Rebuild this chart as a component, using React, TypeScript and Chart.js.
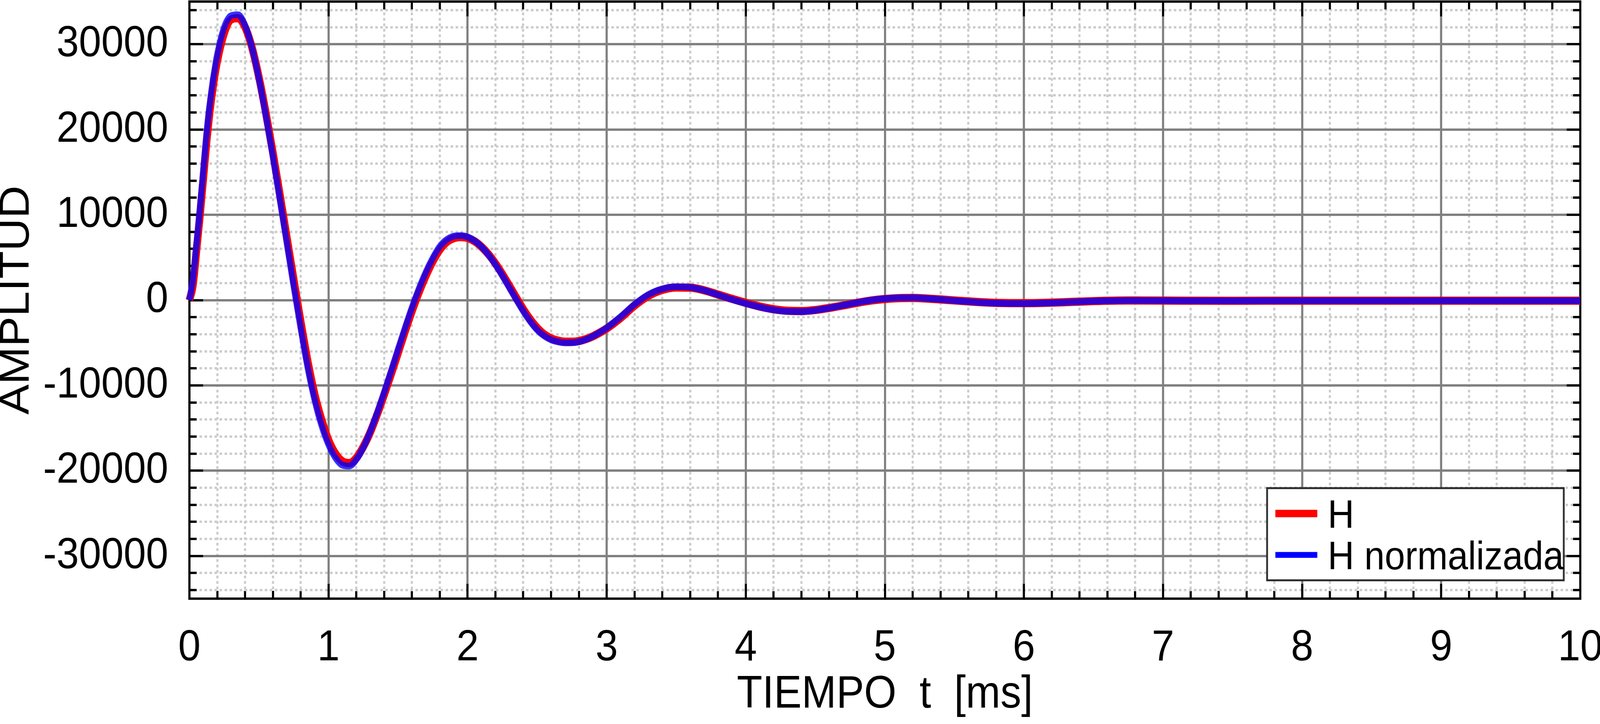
import { useEffect, useRef } from 'react';
import { Chart, registerables } from 'chart.js';

Chart.register(...registerables);

const FONT = "'Liberation Sans', Arial, Helvetica, sans-serif";

// time samples [ms]
const timeMs = [
  0, 0.025, 0.05, 0.075, 0.1, 0.125, 0.15, 0.175, 0.2, 0.25,
  0.3, 0.35, 0.4, 0.45, 0.5, 0.55, 0.6, 0.65, 0.7, 0.75,
  0.8, 0.85, 0.9, 0.95, 1.0, 1.05, 1.1, 1.15, 1.2, 1.25,
  1.3, 1.35, 1.4, 1.45, 1.5, 1.55, 1.6, 1.65, 1.7, 1.75,
  1.8, 1.85, 1.9, 1.95, 2.0, 2.05, 2.1, 2.15, 2.2, 2.25,
  2.3, 2.35, 2.4, 2.45, 2.5, 2.55, 2.6, 2.65, 2.7, 2.75,
  2.8, 2.85, 2.9, 2.95, 3.0, 3.1, 3.2, 3.3, 3.4, 3.5,
  3.6, 3.7, 3.8, 3.9, 4.0, 4.1, 4.2, 4.3, 4.4, 4.5,
  4.6, 4.7, 4.8, 4.9, 5.0, 5.1, 5.2, 5.3, 5.4, 5.5,
  5.6, 5.7, 5.8, 5.9, 6.0, 6.1, 6.2, 6.3, 6.4, 6.5,
  6.75, 7.0, 7.5, 8.0, 8.5, 9.0, 9.5, 10.0,
];

// H (red)
const hValues = [
  0, 1700, 5700, 9800, 14300, 18800, 22600, 25600, 28000, 31300,
  32900, 33050, 32000, 29600, 26100, 21900, 17300, 12400, 7400, 2400,
  -2500, -7100, -11000, -14000, -16400, -18000, -18900, -19100, -18500, -17200,
  -15500, -13400, -11100, -8700, -6200, -3700, -1300, 900, 2850, 4550,
  5900, 6800, 7250, 7380, 7280, 6900, 6250, 5380, 4300, 3050,
  1700, 300, -1050, -2250, -3250, -4000, -4480, -4750, -4870, -4880,
  -4800, -4580, -4250, -3820, -3330, -2100, -650, 500, 1200, 1480,
  1460, 1150, 660, 150, -320, -750, -1070, -1250, -1280, -1160,
  -920, -630, -320, -50, 130, 230, 250, 180, 80, -40,
  -150, -250, -320, -350, -360, -340, -300, -240, -180, -120,
  -50, -60, -75, -70, -70, -70, -70, -70,
];

// H normalizada (blue)
const hNormalizedValues = [
  0, 2500, 6500, 10700, 15300, 19900, 23500, 26400, 28800, 32000,
  33350, 33450, 32200, 29600, 25900, 21550, 16800, 11800, 6700, 1600,
  -3300, -7900, -11700, -14700, -16950, -18500, -19350, -19450, -18700, -17300,
  -15400, -13200, -10800, -8300, -5750, -3250, -850, 1350, 3300, 4950,
  6300, 7100, 7500, 7570, 7400, 6950, 6250, 5300, 4150, 2850,
  1450, 50, -1300, -2500, -3500, -4200, -4650, -4900, -5010, -5000,
  -4880, -4620, -4250, -3780, -3250, -1950, -500, 650, 1320, 1570,
  1500, 1150, 620, 80, -400, -820, -1150, -1330, -1350, -1200,
  -930, -610, -290, -10, 170, 260, 270, 190, 70, -60,
  -180, -290, -360, -400, -400, -370, -320, -250, -180, -120,
  -50, -60, -75, -70, -70, -70, -70, -70,
];

const seriesLabels = ['H', 'H normalizada'];

const xMajorTicks = [0, 1, 2, 3, 4, 5, 6, 7, 8, 9, 10];
const yMajorTicks = [-30000, -20000, -10000, 0, 10000, 20000, 30000];

// minor grid every 0.2 ms / 2000
const xMinorTicks: number[] = [];
for (let i = 1; i < 50; i++) if (i % 5 !== 0) xMinorTicks.push(i / 5);
const yMinorTicks: number[] = [];
for (let v = -34000; v <= 34000; v += 2000) if (v % 10000 !== 0) yMinorTicks.push(v);

const setTicks = (values: number[]) => (scale: any) => {
  scale.ticks = values.map((value) => ({ value }));
};

const fixSize = (size: number) => (scale: any) => {
  if (scale.isHorizontal()) scale.height = size;
  else scale.width = size;
  scale.paddingLeft = 0;
  scale.paddingRight = 0;
  scale.paddingTop = 0;
  scale.paddingBottom = 0;
};

const minorGrid = {
  color: '#cccccc',
  lineWidth: 6,
  tickLength: -20,
  tickWidth: 6,
  tickColor: '#000000',
  z: -1,
};

const majorGrid = {
  color: '#808080',
  lineWidth: 6,
  tickLength: -38,
  tickWidth: 6,
  tickColor: '#000000',
  z: -1,
};

const frame = { display: true, color: '#000000', width: 6 };
const xRange = { type: 'linear', min: 0, max: 10 };
const yRange = { type: 'linear', min: -35000, max: 35000 };

// legend box drawn inside the plot, lower right
const insideLegend = {
  id: 'insideLegend',
  afterDraw(chart: any) {
    const { ctx, chartArea } = chart;
    const w = 827;
    const h = 236;
    const left = chartArea.right - 46 - w;
    const top = chartArea.bottom - 47 - h;
    ctx.save();
    ctx.fillStyle = '#ffffff';
    ctx.fillRect(left, top, w, h);
    ctx.lineWidth = 5;
    ctx.strokeStyle = '#2b2b2b';
    ctx.strokeRect(left, top, w, h);
    ctx.font = `102px ${FONT}`;
    ctx.textBaseline = 'alphabetic';
    chart.data.datasets.forEach((ds: any, i: number) => {
      const cy = top + 65 + i * 106;
      ctx.strokeStyle = ds.legendColor;
      ctx.lineWidth = ds.legendWidth;
      ctx.lineCap = 'butt';
      ctx.beginPath();
      ctx.moveTo(left + 23, cy);
      ctx.lineTo(left + 140, cy);
      ctx.stroke();
      ctx.fillStyle = '#000000';
      ctx.fillText(ds.label, left + 169, cy + 37);
    });
    ctx.restore();
  },
};

export default function App() {
  const canvasRef = useRef<HTMLCanvasElement>(null);
  const chartRef = useRef<Chart | null>(null);

  useEffect(() => {
    const canvas = canvasRef.current;
    if (!canvas) return;
    if (chartRef.current) chartRef.current.destroy();

    // draw on a 4460 x 1854 surface and let CSS fit it to the window
    canvas.width = 4460;
    canvas.height = 1854;
    canvas.style.width = window.innerWidth + 'px';
    canvas.style.height = window.innerHeight + 'px';

    chartRef.current = new Chart(canvas, {
      type: 'line',
      data: {
        datasets: [
          {
            label: seriesLabels[0],
            data: timeMs.map((t, i) => ({ x: t, y: hValues[i] })),
            borderColor: '#ff0000',
            borderWidth: 21,
            legendColor: '#ff0000',
            legendWidth: 19,
            order: 1,
          },
          {
            label: seriesLabels[1],
            data: timeMs.map((t, i) => ({ x: t, y: hNormalizedValues[i] })),
            borderColor: 'rgba(0, 0, 255, 0.8)',
            borderWidth: 17,
            legendColor: '#0000ff',
            legendWidth: 15,
            order: 0,
          },
        ].map((ds) => ({
          ...ds,
          pointRadius: 0,
          pointHoverRadius: 0,
          fill: false,
          cubicInterpolationMode: 'monotone',
          borderCapStyle: 'butt',
          borderJoinStyle: 'round',
          clip: false,
        })) as any,
      },
      options: {
        animation: false,
        responsive: false,
        devicePixelRatio: 1,
        layout: { padding: { top: 4, right: 55, left: 0, bottom: 0 }, autoPadding: false },
        plugins: {
          legend: { display: false },
          tooltip: { enabled: false },
        },
        scales: {
          xMinor: {
            ...xRange,
            position: 'bottom',
            weight: 0,
            afterBuildTicks: setTicks(xMinorTicks),
            afterFit: fixSize(0),
            ticks: { display: false },
            grid: { ...minorGrid },
            border: { display: false, dash: [7, 7] },
          },
          yMinor: {
            ...yRange,
            position: 'left',
            weight: 0,
            afterBuildTicks: setTicks(yMinorTicks),
            afterFit: fixSize(0),
            ticks: { display: false },
            grid: { ...minorGrid },
            border: { display: false, dash: [7, 7] },
          },
          xTopMinor: {
            ...xRange,
            position: 'top',
            weight: 0,
            afterBuildTicks: setTicks(xMinorTicks),
            afterFit: fixSize(0),
            ticks: { display: false },
            grid: { ...minorGrid, drawOnChartArea: false },
            border: { display: false },
          },
          yRightMinor: {
            ...yRange,
            position: 'right',
            weight: 0,
            afterBuildTicks: setTicks(yMinorTicks),
            afterFit: fixSize(0),
            ticks: { display: false },
            grid: { ...minorGrid, drawOnChartArea: false },
            border: { display: false },
          },
          x: {
            ...xRange,
            position: 'bottom',
            weight: 1,
            afterBuildTicks: setTicks(xMajorTicks),
            afterFit: fixSize(321),
            ticks: {
              color: '#000000',
              font: { family: FONT, size: 112 },
              padding: 98,
              maxRotation: 0,
              autoSkip: false,
              callback: (v: any) => String(v),
            },
            grid: { ...majorGrid },
            border: { ...frame },
            title: {
              display: true,
              text: 'TIEMPO  t  [ms]',
              color: '#000000',
              font: { family: FONT, size: 116 },
              padding: { top: 0, bottom: 4 },
            },
          },
          y: {
            ...yRange,
            position: 'left',
            weight: 1,
            afterBuildTicks: setTicks(yMajorTicks),
            afterFit: fixSize(528),
            ticks: {
              color: '#000000',
              font: { family: FONT, size: 112 },
              padding: 97,
              autoSkip: false,
              callback: (v: any) => String(v),
            },
            grid: { ...majorGrid },
            border: { ...frame },
            title: {
              display: true,
              text: 'AMPLITUD',
              color: '#000000',
              font: { family: FONT, size: 116, lineHeight: 0.8 },
              padding: { top: 2, bottom: 0 },
            },
          },
          xTop: {
            ...xRange,
            position: 'top',
            weight: 1,
            afterBuildTicks: setTicks(xMajorTicks),
            afterFit: fixSize(0),
            ticks: { display: false },
            grid: { ...majorGrid, drawOnChartArea: false },
            border: { ...frame },
          },
          yRight: {
            ...yRange,
            position: 'right',
            weight: 1,
            afterBuildTicks: setTicks(yMajorTicks),
            afterFit: fixSize(0),
            ticks: { display: false },
            grid: { ...majorGrid, drawOnChartArea: false },
            border: { ...frame },
          },
        } as any,
      },
      plugins: [insideLegend],
    });

    return () => {
      if (chartRef.current) {
        chartRef.current.destroy();
        chartRef.current = null;
      }
    };
  }, []);

  return (
    <div style={{ position: 'fixed', left: 0, top: 0, right: 0, bottom: 0, background: '#ffffff', overflow: 'hidden' }}>
      <canvas ref={canvasRef} style={{ display: 'block' }} />
    </div>
  );
}
